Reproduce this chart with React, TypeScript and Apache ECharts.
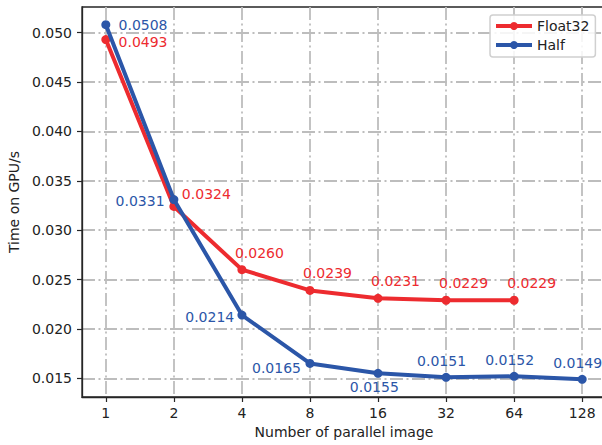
import React, { useEffect, useRef } from "react";
import * as echarts from "echarts";

const xLabels = ["1", "2", "4", "8", "16", "32", "64", "128"];
const float32Values = [0.0493, 0.0324, 0.026, 0.0239, 0.0231, 0.0229, 0.0229];
const halfValues = [0.0508, 0.0331, 0.0214, 0.0165, 0.0155, 0.0151, 0.0152, 0.0149];
const yTicks = [0.015, 0.02, 0.025, 0.03, 0.035, 0.04, 0.045, 0.05];
const seriesNames = ["Float32", "Half"];

const RED = "#ED2B2F";
const BLUE = "#2B56A8";
const FONT = "DejaVu Sans";

// label placement per point: [align, dx, dy]
const f32LabelLayout: [string, number, number][] = [
  ["left", 12.7, 2],
  ["left", 8, -12.5],
  ["left", -7, -17],
  ["left", -7, -17],
  ["left", -7, -17],
  ["left", -7, -17],
  ["left", -7, -17],
];
const halfLabelLayout: [string, number, number][] = [
  ["left", 12.7, 0],
  ["right", -9.3, 1.7],
  ["right", -7.7, 2.2],
  ["center", -33.5, 5],
  ["center", -3.7, 14],
  ["center", -4.5, -16.7],
  ["center", -4.5, -16.7],
  ["center", -4.5, -16.7],
];

function buildData(values: number[], layout: [string, number, number][], color: string) {
  return values.map((v, i) => ({
    value: [i, v],
    label: {
      show: true,
      position: "inside",
      align: layout[i][0],
      verticalAlign: "middle",
      offset: [layout[i][1], layout[i][2]],
      formatter: () => v.toFixed(4),
      color,
      fontSize: 14,
      fontFamily: FONT,
    },
  }));
}

export default function App() {
  const ref = useRef<HTMLDivElement>(null);
  useEffect(() => {
    if (!ref.current) return;
    const chart = echarts.init(ref.current, undefined, { renderer: "svg" });
    const xIdx = xLabels.map((_, i) => i);
    const gridLine = {
      show: true,
      lineStyle: { color: "#bdbdbd", width: 1.8, type: [13, 3.5, 2, 3.5] },
    };
    chart.setOption({
      animation: false,
      backgroundColor: "#ffffff",
      textStyle: { fontFamily: FONT },
      grid: {
        left: 82,
        width: 524,
        top: 7,
        height: 390,
        outerBoundsMode: "none",
        containLabel: false,
        show: true,
        borderColor: "#262626",
        borderWidth: 1.3,
      },
      legend: {
        orient: "vertical",
        left: 490,
        top: 15,
        padding: [4, 6, 5, 4],
        itemWidth: 36,
        itemHeight: 10,
        itemGap: 5,
        borderColor: "#d0d0d0",
        borderWidth: 1.5,
        borderRadius: 3,
        backgroundColor: "rgba(255,255,255,0.85)",
        lineStyle: { width: 4 },
        textStyle: { fontSize: 14, fontFamily: FONT, color: "#222" },
        data: seriesNames,
      },
      xAxis: {
        type: "value",
        min: -0.35,
        max: 7.35,
        name: "Number of parallel image",
        nameLocation: "middle",
        nameGap: 27,
        nameTextStyle: { fontSize: 14, color: "#222", fontFamily: FONT },
        axisLine: { show: true, onZero: false, lineStyle: { color: "#262626", width: 1.3 } },
        axisTick: { show: true, length: 5, lineStyle: { color: "#262626", width: 1.2 }, customValues: xIdx },
        axisLabel: {
          customValues: xIdx,
          formatter: (v: number) => xLabels[Math.round(v)],
          fontSize: 14,
          color: "#222",
          margin: 9,
          fontFamily: FONT,
        },
        splitLine: gridLine,
      },
      yAxis: {
        type: "value",
        min: 0.013105,
        max: 0.052595,
        name: "Time on GPU/s",
        nameLocation: "middle",
        nameGap: 56,
        nameTextStyle: { fontSize: 14, color: "#222", fontFamily: FONT },
        axisLine: { show: true, onZero: false, lineStyle: { color: "#262626", width: 1.3 } },
        axisTick: { show: true, length: 5, lineStyle: { color: "#262626", width: 1.2 }, customValues: yTicks },
        axisLabel: {
          customValues: yTicks,
          formatter: (v: number) => v.toFixed(3),
          fontSize: 14,
          color: "#222",
          margin: 10,
          fontFamily: FONT,
        },
        splitLine: gridLine,
      },
      series: [
        {
          name: seriesNames[0],
          type: "line",
          data: buildData(float32Values, f32LabelLayout, RED),
          symbol: "circle",
          symbolSize: 9,
          color: RED,
          lineStyle: { width: 4, color: RED },
          itemStyle: { color: RED },
          z: 3,
        },
        {
          name: seriesNames[1],
          type: "line",
          data: buildData(halfValues, halfLabelLayout, BLUE),
          symbol: "circle",
          symbolSize: 9,
          color: BLUE,
          lineStyle: { width: 4, color: BLUE },
          itemStyle: { color: BLUE },
          z: 4,
        },
      ],
    });
    return () => chart.dispose();
  }, []);
  return <div ref={ref} style={{ width: 602, height: 445, position: "fixed", left: 0, top: 0 }} />;
}
